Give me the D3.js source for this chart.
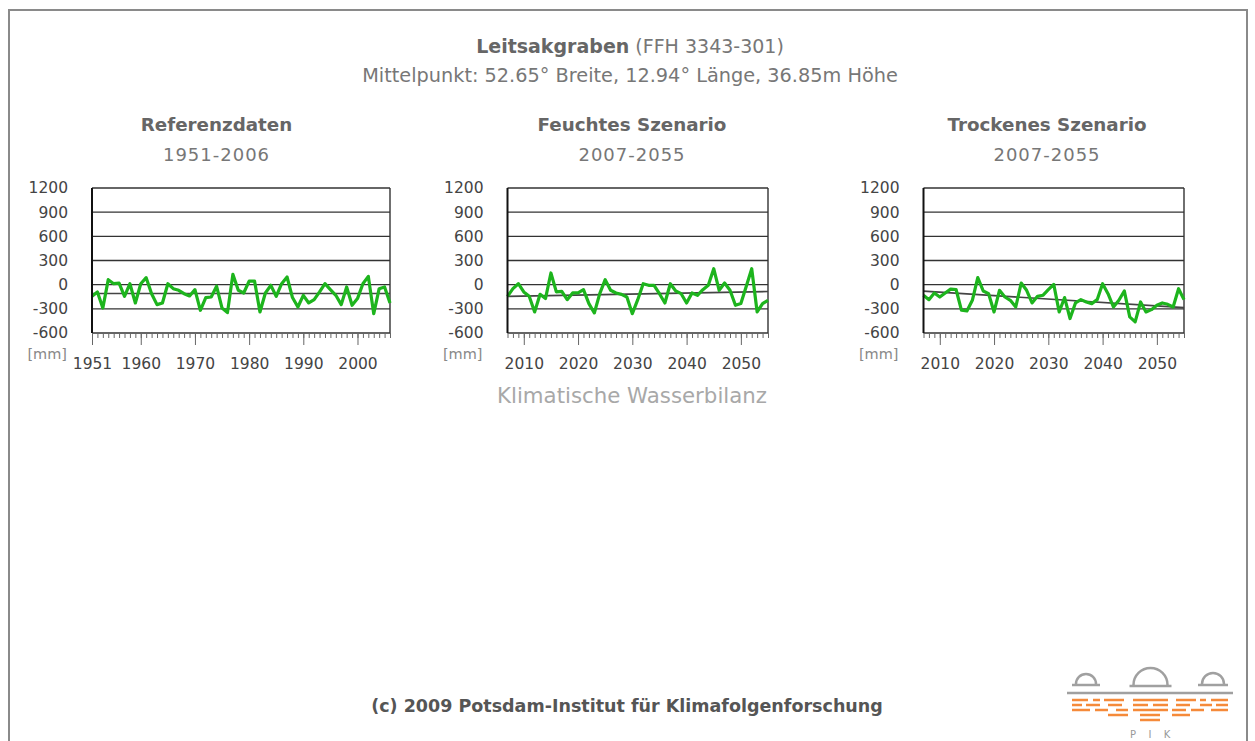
<!DOCTYPE html>
<html>
<head>
<meta charset="utf-8">
<script src="https://cdn.jsdelivr.net/npm/d3@7"></script>
<style>
  html, body { margin: 0; padding: 0; background: #fff; }
  svg { display: block; }
  text { font-family: "DejaVu Sans", Verdana, sans-serif; }
</style>
</head>
<body>
<script>
// ---------------- DATA ----------------
const mainTitleBold = "Leitsakgraben";
const mainTitleRest = " (FFH 3343-301)";
const subTitle = "Mittelpunkt: 52.65° Breite, 12.94° Länge, 36.85m Höhe";
const xAxisTitle = "Klimatische Wasserbilanz";
const footerText = "(c) 2009 Potsdam-Institut für Klimafolgenforschung";

const panelTitles = ["Referenzdaten", "Feuchtes Szenario", "Trockenes Szenario"];
const panelPeriods = ["1951-2006", "2007-2055", "2007-2055"];
const yearRanges = [[1951, 2006], [2007, 2055], [2007, 2055]];
const labeledYears = [
  [1951, 1960, 1970, 1980, 1990, 2000],
  [2010, 2020, 2030, 2040, 2050],
  [2010, 2020, 2030, 2040, 2050]
];
const yTicks = [-600, -300, 0, 300, 600, 900, 1200];
const yUnit = "[mm]";

const referenzValues = [-145,-90,-290,62,12,20,-145,12,-227,12,
  87,-112,-248,-227,12,-50,-70,-112,-140,-62,
  -318,-160,-153,-20,-290,-347,128,-70,-103,45,
  45,-339,-103,-8,-145,12,95,-160,-277,-132,
  -227,-186,-90,12,-62,-132,-248,-29,-256,-173,
  12,103,-360,-50,-29,-227];
const feuchtValues = [-145,-50,12,-90,-145,-339,-120,-173,145,-90,
  -83,-186,-103,-103,-62,-235,-351,-112,62,-70,
  -103,-120,-153,-360,-186,12,-8,-8,-112,-227,
  12,-78,-112,-227,-103,-132,-62,-8,198,-70,
  20,-70,-256,-235,-20,198,-339,-235,-194];
const trockenValues = [-132,-186,-103,-153,-103,-55,-60,-318,-326,-194,
  87,-78,-112,-339,-70,-153,-194,-277,20,-70,
  -227,-145,-132,-62,4,-339,-160,-420,-227,-186,
  -215,-235,-186,12,-112,-277,-194,-78,-400,-462,
  -215,-339,-310,-256,-227,-244,-277,-50,-186];
const seriesValues = [referenzValues, feuchtValues, trockenValues];
// trend line values at first and last year
const trendValues = [[-110, -110], [-145, -85], [-80, -285]];

// ---------------- LAYOUT ----------------
const W = 1255, H = 741;
const plotLeft = [92, 507.5, 923.5];
const plotRight = [390, 768, 1184];
const plotTop = 188, plotBottom = 333;
const titleCenters = [216.5, 632, 1047];
const FONT = '"DejaVu Sans", Verdana, sans-serif';

const svg = d3.select("body").append("svg").attr("width", W).attr("height", H);
svg.append("rect").attr("width", W).attr("height", H).attr("fill", "#fff");
// frame
svg.append("rect").attr("x", 9).attr("y", 10).attr("width", 1238).attr("height", 800)
  .attr("fill", "none").attr("stroke", "#8a8a8a").attr("stroke-width", 2);

// main title
const t1 = svg.append("text").attr("x", 630).attr("y", 53).attr("text-anchor", "middle")
  .attr("font-size", 19).attr("fill", "#666");
t1.append("tspan").attr("font-weight", "bold").text(mainTitleBold);
t1.append("tspan").attr("fill", "#777").text(mainTitleRest);
svg.append("text").attr("x", 630).attr("y", 82).attr("text-anchor", "middle")
  .attr("font-size", 19.3).attr("fill", "#777").text(subTitle);

const y = d3.scaleLinear().domain([-600, 1200]).range([plotBottom, plotTop]);

for (let i = 0; i < 3; i++) {
  const [y0, y1] = yearRanges[i];
  const x = d3.scaleLinear().domain([y0, y1]).range([plotLeft[i], plotRight[i]]);
  const g = svg.append("g");

  g.append("text").attr("x", titleCenters[i]).attr("y", 131).attr("text-anchor", "middle")
    .attr("font-size", 18.3).attr("font-weight", "bold").attr("fill", "#666").text(panelTitles[i]);
  g.append("text").attr("x", titleCenters[i]).attr("y", 161).attr("text-anchor", "middle")
    .attr("font-size", 18).attr("letter-spacing", 1).attr("fill", "#777").text(panelPeriods[i]);

  // gridlines
  g.selectAll("line.grid").data(yTicks).join("line").attr("class", "grid")
    .attr("x1", plotLeft[i]).attr("x2", plotRight[i])
    .attr("y1", d => y(d)).attr("y2", d => y(d))
    .attr("stroke", "#333").attr("stroke-width", 1.4);
  // right border
  g.append("line").attr("x1", plotRight[i]).attr("x2", plotRight[i])
    .attr("y1", plotTop).attr("y2", plotBottom).attr("stroke", "#333").attr("stroke-width", 1.4);

  // y axis labels
  const ya = g.append("g").attr("transform", `translate(${plotLeft[i]},0)`)
    .call(d3.axisLeft(y).tickValues(yTicks).tickSize(0).tickPadding(24).tickFormat(d => String(d)));
  ya.select(".domain").remove();
  ya.selectAll("text").attr("font-size", 15.5).attr("fill", "#444").style("font-family", FONT);

  g.append("text").attr("x", plotLeft[i] - 25).attr("y", 359).attr("text-anchor", "end")
    .attr("font-size", 14.5).attr("fill", "#888").text(yUnit);

  // minor year ticks
  const years = d3.range(y0, y1 + 1);
  const xm = g.append("g").attr("transform", `translate(0,${plotBottom})`)
    .call(d3.axisBottom(x).tickValues(years).tickSize(5).tickFormat(""));
  xm.select(".domain").remove();
  xm.selectAll("line").attr("stroke", "#666");
  // major labeled ticks
  const xa = g.append("g").attr("transform", `translate(0,${plotBottom})`)
    .call(d3.axisBottom(x).tickValues(labeledYears[i]).tickSize(12).tickPadding(13).tickFormat(d => String(d)));
  xa.select(".domain").remove();
  xa.selectAll("line").attr("stroke", "#666");
  xa.selectAll("text").attr("font-size", 15.5).attr("fill", "#444").style("font-family", FONT);

  // trend line
  g.append("line").attr("x1", x(y0)).attr("x2", x(y1))
    .attr("y1", y(trendValues[i][0])).attr("y2", y(trendValues[i][1]))
    .attr("stroke", "#444").attr("stroke-width", 1.6);

  // series
  const line = d3.line().x((d, k) => x(y0 + k)).y(d => y(d));
  g.append("path").datum(seriesValues[i]).attr("d", line)
    .attr("fill", "none").attr("stroke", "#1db41d").attr("stroke-width", 3.2)
    .attr("stroke-linejoin", "round");

  // left axis
  g.append("line").attr("x1", plotLeft[i]).attr("x2", plotLeft[i])
    .attr("y1", plotTop).attr("y2", plotBottom).attr("stroke", "#111").attr("stroke-width", 2);
}

svg.append("text").attr("x", 632).attr("y", 403).attr("text-anchor", "middle")
  .attr("font-size", 21.3).attr("fill", "#a8a8a8").text(xAxisTitle);

svg.append("text").attr("x", 627).attr("y", 712).attr("text-anchor", "middle")
  .attr("font-size", 17.5).attr("font-weight", "bold").attr("fill", "#555").text(footerText);

// ---------------- PIK logo ----------------
const logo = svg.append("g");
const gray = "#a0a0a0", orange = "#f58a3a";
logo.append("line").attr("x1", 1067).attr("x2", 1233).attr("y1", 693).attr("y2", 693)
  .attr("stroke", gray).attr("stroke-width", 2.5);
[[1086, 10, 684], [1150.5, 17, 685], [1213, 11, 684]].forEach(([cx, r, by]) => {
  logo.append("path")
    .attr("d", `M${cx - r},${by} A${r},${r} 0 0 1 ${cx + r},${by}`)
    .attr("fill", "none").attr("stroke", gray).attr("stroke-width", 2.5);
  logo.append("line").attr("x1", cx - r - 4).attr("x2", cx + r + 4).attr("y1", by + 1).attr("y2", by + 1)
    .attr("stroke", gray).attr("stroke-width", 2.5);
});
const bars = [
  [700, [[1072, 1088], [1093, 1100], [1104, 1124], [1133, 1168], [1176, 1196], [1200, 1206], [1211, 1228]]],
  [705, [[1072, 1082], [1086, 1100], [1108, 1122], [1133, 1148], [1153, 1168], [1176, 1190], [1200, 1212], [1216, 1228]]],
  [710, [[1072, 1090], [1095, 1108], [1116, 1128], [1133, 1168], [1172, 1186], [1191, 1204], [1211, 1228]]],
  [715, [[1108, 1128], [1140, 1160], [1172, 1190]]],
  [720, [[1140, 1160]]]
];
bars.forEach(([by, segs]) => segs.forEach(([a, b]) => {
  logo.append("line").attr("x1", a).attr("x2", b).attr("y1", by).attr("y2", by)
    .attr("stroke", orange).attr("stroke-width", 2.5);
}));
[["P", 1133], ["I", 1150], ["K", 1167]].forEach(([ch, lx]) => {
  logo.append("text").attr("x", lx).attr("y", 738).attr("text-anchor", "middle")
    .attr("font-size", 10).attr("fill", "#999").text(ch);
});
</script>
</body>
</html>
